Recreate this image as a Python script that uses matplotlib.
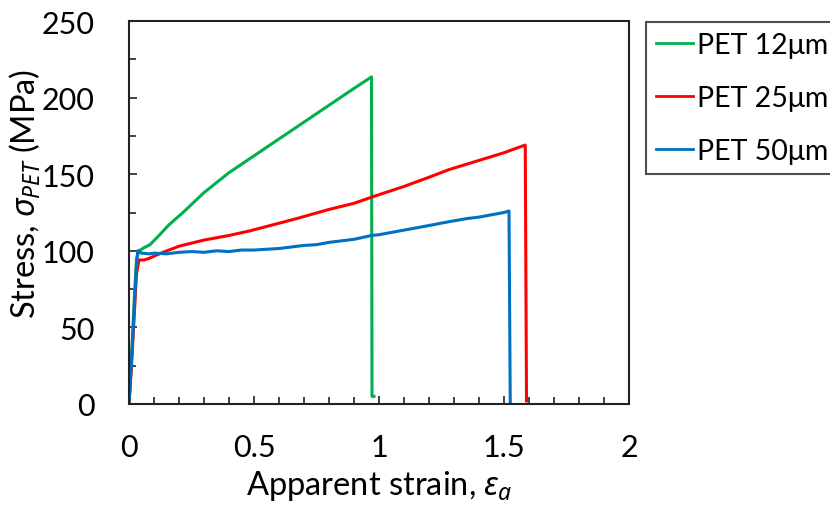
import matplotlib
matplotlib.use("Agg")
import matplotlib.pyplot as plt
from matplotlib.ticker import MultipleLocator

plt.rcParams['font.family'] = ['Lato', 'DejaVu Sans']
plt.rcParams['mathtext.fontset'] = 'custom'
plt.rcParams['mathtext.rm'] = 'Noto Sans'
plt.rcParams['mathtext.it'] = 'Noto Sans:italic'

# PET 12um
x12 = [0, 0.01, 0.02, 0.03, 0.04, 0.06, 0.084, 0.12, 0.16, 0.216, 0.3, 0.4, 0.5, 0.6, 0.7, 0.8, 0.9, 0.97, 0.972, 0.98]
y12 = [0, 30, 65, 95, 100, 102, 104, 110, 117, 125, 138, 151, 162, 173, 184, 195, 206, 213.5, 5, 5]
# PET 25um
x25 = [0, 0.01, 0.02, 0.03, 0.04, 0.06, 0.08, 0.1, 0.136, 0.2, 0.3, 0.4, 0.483, 0.6, 0.67, 0.8, 0.9, 0.97, 1.1, 1.2, 1.28, 1.4, 1.5, 1.55, 1.585, 1.59]
y25 = [0, 25, 55, 85, 94, 94, 95, 96.5, 99, 103, 107, 110, 113, 118, 121, 127, 131, 135, 142, 148, 153, 159, 164, 167, 169, 2]
# PET 50um
x50 = [0, 0.01, 0.02, 0.03, 0.035, 0.05, 0.08, 0.1, 0.15, 0.2, 0.25, 0.3, 0.35, 0.4, 0.45, 0.5, 0.55, 0.6, 0.65, 0.7, 0.75, 0.8, 0.85, 0.9, 0.97, 1.0, 1.05, 1.1, 1.15, 1.2, 1.28, 1.35, 1.4, 1.45, 1.5, 1.52, 1.525]
y50 = [0, 28, 60, 90, 100, 98.5, 98, 98.5, 98, 99, 99.5, 99, 100, 99.5, 100.5, 100.5, 101, 101.5, 102.5, 103.5, 104, 105.5, 106.5, 107.5, 110, 110.5, 112, 113.5, 115, 116.5, 119, 121, 122, 123.5, 125, 126, 0]

series = [("PET 12μm", x12, y12, "#00B050"),
          ("PET 25μm", x25, y25, "#FF0000"),
          ("PET 50μm", x50, y50, "#0070C0")]

fig = plt.figure(figsize=(8.3, 5.1), dpi=100)
ax = fig.add_axes([129/830, 1-405/510, (629-129)/830, (405-22)/510])

for lab, x, y, c in series:
    ax.plot(x, y, color=c, lw=2.2, label=lab)

ax.set_xlim(0, 2)
ax.set_ylim(0, 250)
ax.xaxis.set_major_locator(MultipleLocator(0.5))
ax.xaxis.set_minor_locator(MultipleLocator(0.1))
ax.yaxis.set_major_locator(MultipleLocator(50))
ax.yaxis.set_minor_locator(MultipleLocator(25))
ax.xaxis.set_major_formatter(matplotlib.ticker.FuncFormatter(lambda v, p: f"{v:g}"))
ax.tick_params(which='both', direction='in', labelsize=22, width=1.2, color='#222222')
ax.tick_params(which='major', length=6)
ax.tick_params(which='minor', length=5)
ax.tick_params(axis='x', which='major', pad=21)
ax.tick_params(axis='y', which='major', pad=25)
for s in ax.spines.values():
    s.set_linewidth(1.5)
    s.set_color('#222222')

ax.set_xlabel("Apparent strain, $\\varepsilon_a$", fontsize=23.5, labelpad=5)
ax.set_ylabel("Stress, $\\sigma_{PET}$ (MPa)", fontsize=23.5)
ax.yaxis.set_label_coords(-0.172, 0.55)

leg = fig.legend(loc='upper left', bbox_to_anchor=(646/830, 1-23/510), borderaxespad=0,
                 fontsize=20.5, frameon=True, fancybox=False, edgecolor='#222222',
                 handlelength=1.3, handletextpad=0.15, labelspacing=0.95,
                 borderpad=0.35)
leg.get_frame().set_linewidth(1.5)
for l in leg.get_lines():
    l.set_linewidth(2.0)

fig.savefig("out.png", dpi=100)
